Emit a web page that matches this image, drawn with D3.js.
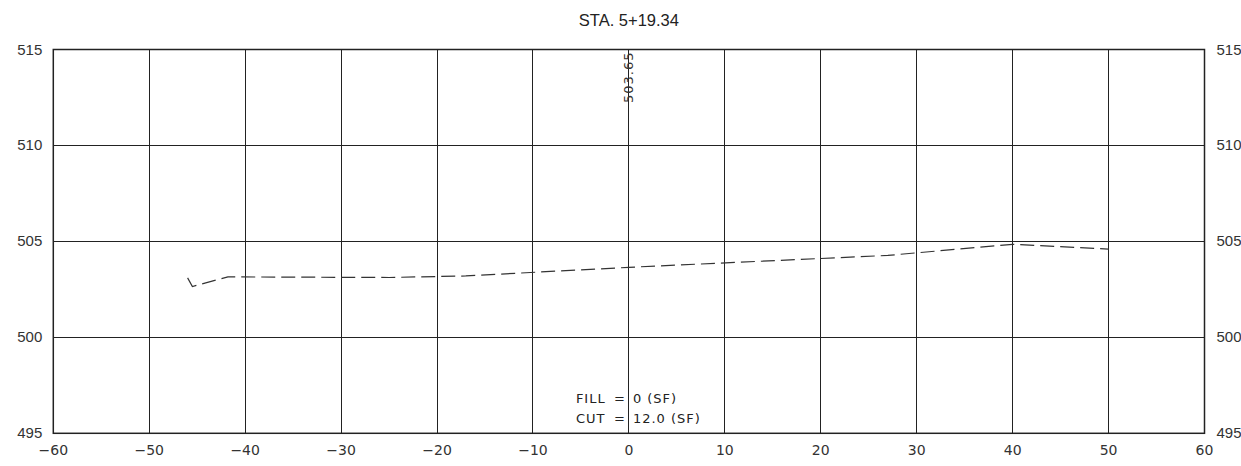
<!DOCTYPE html>
<html><head><meta charset="utf-8">
<script src="https://cdn.jsdelivr.net/npm/d3@7"></script>
<style>
html,body{margin:0;padding:0;background:#fff;overflow:hidden;}
svg{display:block;}
</style></head>
<body>
<svg id="chart" width="1241" height="466"></svg>
<script>
const title = "STA. 5+19.34";
const xTicks = [-60,-50,-40,-30,-20,-10,0,10,20,30,40,50,60];
const yTicks = [495,500,505,510,515];
const groundOffset = [-46, -45.5, -41.8, -25, -17, 0, 27, 40, 50];
const groundElev   = [503.1, 502.65, 503.15, 503.12, 503.2, 503.65, 504.27, 504.85, 504.6];
const centerElevLabel = "503.65";
const areaLabels = ["FILL", "CUT"];
const areaValues = ["0 (SF)", "12.0 (SF)"];

const svg = d3.select("#chart");
const L = 53.3, R = 1204.5, T = 49.5, B = 433.3;
const x = d3.scaleLinear().domain([-60, 60]).range([L, R]);
const y = d3.scaleLinear().domain([495, 515]).range([B, T]);
const ink = "#222";
const font = "Liberation Sans, Arial, sans-serif";
const cad = "DejaVu Sans, sans-serif";

// grid
svg.append("g").selectAll("line").data(xTicks.slice(1,-1)).join("line")
  .attr("x1", d => x(d)).attr("x2", d => x(d)).attr("y1", T).attr("y2", B)
  .attr("stroke", ink).attr("stroke-width", 1).attr("shape-rendering","crispEdges");
svg.append("g").selectAll("line").data(yTicks.slice(1,-1)).join("line")
  .attr("x1", L).attr("x2", R).attr("y1", d => y(d)).attr("y2", d => y(d))
  .attr("stroke", ink).attr("stroke-width", 1).attr("shape-rendering","crispEdges");
// border
svg.append("rect").attr("x", L).attr("y", T).attr("width", R-L).attr("height", B-T)
  .attr("fill","none").attr("stroke", ink).attr("stroke-width", 1.5);

// left axis labels
svg.append("g").selectAll("text").data(yTicks).join("text")
  .attr("x", L - 11).attr("y", d => y(d) + 5).attr("text-anchor","end")
  .attr("font-family", font).attr("font-size", 15).attr("fill","#333").text(d => d);
// right axis labels
svg.append("g").selectAll("text").data(yTicks).join("text")
  .attr("x", R + 12).attr("y", d => y(d) + 5).attr("text-anchor","start")
  .attr("font-family", font).attr("font-size", 15).attr("fill","#333").text(d => d);
// bottom labels
svg.append("g").selectAll("text").data(xTicks).join("text")
  .attr("x", d => x(d)).attr("y", B + 22).attr("text-anchor","middle")
  .attr("font-family", cad).attr("font-size", 14).attr("fill","#333")
  .text(d => d < 0 ? "\u2212" + Math.abs(d) : d);

// title
svg.append("text").attr("x", x(0)).attr("y", 26).attr("text-anchor","middle")
  .attr("font-family", font).attr("font-size", 16.5).attr("fill","#222").text(title);

// ground line
const pts = groundOffset.map((o,i) => [o, groundElev[i]]);
svg.append("path").datum(pts)
  .attr("d", d3.line().x(d => x(d[0])).y(d => y(d[1])))
  .attr("fill","none").attr("stroke","#333").attr("stroke-width",1.2)
  .attr("stroke-dasharray","14,6");

// center elevation label
svg.append("text")
  .attr("transform", `translate(${x(0)+4.5},${T+2}) rotate(-90)`)
  .attr("text-anchor","end")
  .attr("font-family", cad).attr("font-size", 13).attr("fill","#333")
  .attr("letter-spacing", 1)
  .text(centerElevLabel);

// fill / cut
areaLabels.forEach((lab, i) => {
  const yy = 403 + i*20;
  svg.append("text").attr("x", x(0) - 53).attr("y", yy)
    .attr("font-family", cad).attr("font-size",13).attr("fill","#222")
    .attr("letter-spacing", 1)
    .text(lab);
  svg.append("text").attr("x", x(0) - 15).attr("y", yy)
    .attr("font-family", cad).attr("font-size",13).attr("fill","#222")
    .text("=");
  svg.append("text").attr("x", x(0) + 4).attr("y", yy)
    .attr("font-family", cad).attr("font-size",13).attr("fill","#222")
    .attr("letter-spacing", 1)
    .text(areaValues[i]);
});
</script>
</body></html>
